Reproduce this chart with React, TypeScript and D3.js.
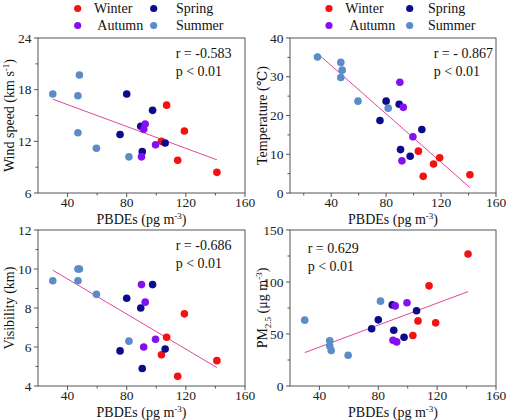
import * as d3 from "d3";
import React from "react";

// seasons and their marker colours
const seasons = ["Winter", "Spring", "Autumn", "Summer"];
const seasonColors = ["#f21212", "#0b0b8c", "#8410f0", "#5b8cc8"];

// PBDEs (pg m-3) per sample, by season
const pbdeWinter = [103.5, 107, 114.5, 119, 141];
const pbdeSpring = [75.5, 80, 89.5, 90.5, 97.5, 106];
const pbdeAutumn = [90, 91.5, 92.5, 99.5];
const pbdeSummer = [30, 47, 47, 48, 59.5, 81.5];

// wind speed (km s-1)
const windWinter = [12.0, 16.2, 9.8, 13.2, 8.4];
const windSpring = [12.8, 17.5, 13.75, 10.8, 15.6, 11.8];
const windAutumn = [10.2, 13.4, 14.0, 11.6];
const windSummer = [17.5, 17.3, 13.0, 19.7, 11.2, 10.2];

// temperature (C)
const tempWinter = [10.8, 4.3, 7.5, 9.1, 4.7];
const tempSpring = [18.7, 23.7, 22.9, 11.2, 9.5, 16.4];
const tempAutumn = [28.6, 8.3, 22.1, 14.5];
const tempSummer = [35.1, 29.8, 33.7, 31.7, 23.7, 21.9];

// visibility (km)
const visWinter = [5.6, 6.5, 4.5, 7.7, 5.3];
const visSpring = [5.8, 8.5, 8.0, 4.9, 9.2, 5.9];
const visAutumn = [9.2, 6.0, 8.3, 6.4];
const visSummer = [9.4, 9.4, 10.0, 10.0, 8.7, 6.3];

// PM2.5 (ug m-3)
const pmWinter = [48.6, 62.6, 96.3, 60.7, 126.9];
const pmSpring = [55, 63.6, 78, 53.6, 46.9, 72.3];
const pmAutumn = [44, 77, 42.4, 80];
const pmSummer = [63.3, 43.4, 38.5, 34.1, 29.5, 81.6];

const xTicks = [40, 80, 120, 160];

const pbdeBySeason = [pbdeWinter, pbdeSpring, pbdeAutumn, pbdeSummer];

type Pt = { x: number; y: number; s: number };

function toPoints(ys: number[][]): Pt[] {
  const out: Pt[] = [];
  ys.forEach((vals, s) => {
    vals.forEach((v, i) => out.push({ x: pbdeBySeason[s][i], y: v, s }));
  });
  return out;
}

// least-squares fit through all samples
function fit(pts: Pt[]) {
  const mx = d3.mean(pts, (d) => d.x)!;
  const my = d3.mean(pts, (d) => d.y)!;
  const sxy = d3.sum(pts, (d) => (d.x - mx) * (d.y - my));
  const sxx = d3.sum(pts, (d) => (d.x - mx) ** 2);
  const b = sxy / sxx;
  return { a: my - b * mx, b };
}

const FONT = "'Liberation Serif', 'Times New Roman', Times, 'DejaVu Serif', serif";
const AXIS = "#555";
const LINE = "#e0479b";

type PanelProps = {
  x0: number;
  x1: number;
  y0: number;
  y1: number;
  xDomain: [number, number];
  yDomain: [number, number];
  yTicks: number[];
  yMinor: number[];
  xMinor: number[];
  points: Pt[];
  yLabel: React.ReactNode;
  yLabelX: number;
  rText: string;
  statX: number;
  statY: number;
  legend?: { cx: number; tx: number[] }[];
};

function Panel(p: PanelProps) {
  const x = d3.scaleLinear().domain(p.xDomain).range([p.x0, p.x1]);
  const y = d3.scaleLinear().domain(p.yDomain).range([p.y1, p.y0]);
  const { a, b } = fit(p.points);
  const [xmin, xmax] = d3.extent(p.points, (d) => d.x) as [number, number];
  const line = d3.line<number>().x((v) => x(v)).y((v) => y(a + b * v));
  const xMid = (p.x0 + p.x1) / 2;
  const yMid = (p.y0 + p.y1) / 2;

  return (
    <g style={{ fontFamily: FONT }}>
      <rect x={p.x0} y={p.y0} width={p.x1 - p.x0} height={p.y1 - p.y0} fill="none" stroke={AXIS} strokeWidth={1} />
      {xTicks.map((t) => (
        <g key={"xt" + t}>
          <line x1={x(t)} x2={x(t)} y1={p.y1} y2={p.y1 + 4} stroke={AXIS} />
          <text x={x(t)} y={p.y1 + 13.5} fontSize={13.5} textAnchor="middle" fill="#222">{t}</text>
        </g>
      ))}
      {p.xMinor.map((t) => (
        <line key={"xm" + t} x1={x(t)} x2={x(t)} y1={p.y1} y2={p.y1 + 2.5} stroke={AXIS} />
      ))}
      {p.yTicks.map((t) => (
        <g key={"yt" + t}>
          <line x1={p.x0 - 4} x2={p.x0} y1={y(t)} y2={y(t)} stroke={AXIS} />
          <text x={p.x0 - 6.5} y={y(t) + 4.5} fontSize={13.5} textAnchor="end" fill="#222">{t}</text>
        </g>
      ))}
      {p.yMinor.map((t) => (
        <line key={"ym" + t} x1={p.x0 - 2.5} x2={p.x0} y1={y(t)} y2={y(t)} stroke={AXIS} />
      ))}
      <text x={xMid} y={p.y1 + 30.5} fontSize={14} textAnchor="middle" fill="#111">
        PBDEs (pg m<tspan dy={-5} fontSize={9}>-3</tspan><tspan dy={5}>)</tspan>
      </text>
      <text transform={`translate(${p.yLabelX},${yMid}) rotate(-90)`} fontSize={14} textAnchor="middle" fill="#111">
        {p.yLabel}
      </text>
      <path d={line([xmin, xmax]) ?? ""} stroke={LINE} strokeWidth={1} fill="none" />
      {p.points.map((d, i) => (
        <circle key={i} cx={x(d.x)} cy={y(d.y)} r={3.8} fill={seasonColors[d.s]} />
      ))}
      <text x={p.statX} y={p.statY} fontSize={14} fill="#111">{p.rText}</text>
      <text x={p.statX} y={p.statY + 18} fontSize={14} fill="#111">p &lt; 0.01</text>
      {p.legend &&
        p.legend.map((col, c) =>
          [0, 1].map((r) => {
            const s = r * 2 + c;
            return (
              <g key={"lg" + s}>
                <circle cx={col.cx} cy={8.5 + r * 17} r={3.6} fill={seasonColors[s]} />
                <text x={col.tx[r]} y={13.3 + r * 17} fontSize={14} fill="#111">{seasons[s]}</text>
              </g>
            );
          })
        )}
    </g>
  );
}

export default function App() {
  const windPts = toPoints([windWinter, windSpring, windAutumn, windSummer]);
  const tempPts = toPoints([tempWinter, tempSpring, tempAutumn, tempSummer]);
  const visPts = toPoints([visWinter, visSpring, visAutumn, visSummer]);
  const pmPts = toPoints([pmWinter, pmSpring, pmAutumn, pmSummer]);

  return (
    <svg width={527} height={420} style={{ position: "absolute", left: 0, top: 0, background: "#fff", fontFamily: FONT }}>
      <Panel
        x0={38} x1={245} y0={38} y1={193}
        xDomain={[20, 160]} yDomain={[6, 24]}
        yTicks={[6, 12, 18, 24]} yMinor={[9, 15, 21]} xMinor={[60, 100, 140]}
        points={windPts}
        yLabel={<>Wind speed (km s<tspan dy={-5} fontSize={9}>-1</tspan><tspan dy={5}>)</tspan></>}
        yLabelX={14}
        rText="r = -0.583" statX={175.7} statY={58}
        legend={[{ cx: 77.7, tx: [94, 97.3] }, { cx: 153.7, tx: [176, 176] }]}
      />
      <Panel
        x0={290} x1={496} y0={38} y1={193}
        xDomain={[10, 160]} yDomain={[0, 40]}
        yTicks={[0, 10, 20, 30, 40]} yMinor={[5, 15, 25, 35]} xMinor={[20, 60, 100, 140]}
        points={tempPts}
        yLabel={<>Temperature (℃)</>}
        yLabelX={267}
        rText="r = - 0.867" statX={433.7} statY={58}
        legend={[{ cx: 329, tx: [345.3, 349.3] }, { cx: 409.7, tx: [428, 428] }]}
      />
      <Panel
        x0={38} x1={245} y0={230} y1={386}
        xDomain={[20, 160]} yDomain={[4, 12]}
        yTicks={[4, 6, 8, 10, 12]} yMinor={[5, 7, 9, 11]} xMinor={[60, 100, 140]}
        points={visPts}
        yLabel={<>Visibility (km)</>}
        yLabelX={14}
        rText="r = -0.686" statX={175.7} statY={250}
      />
      <Panel
        x0={290} x1={496} y0={230} y1={386}
        xDomain={[20, 160]} yDomain={[0, 150]}
        yTicks={[0, 50, 100, 150]} yMinor={[25, 75, 125]} xMinor={[60, 100, 140]}
        points={pmPts}
        yLabel={<>PM<tspan dy={4} fontSize={9}>2.5</tspan><tspan dy={-4}> (μg m</tspan><tspan dy={-5} fontSize={9}>-3</tspan><tspan dy={5}>)</tspan></>}
        yLabelX={267}
        rText="r = 0.629" statX={307.7} statY={253}
      />
    </svg>
  );
}
